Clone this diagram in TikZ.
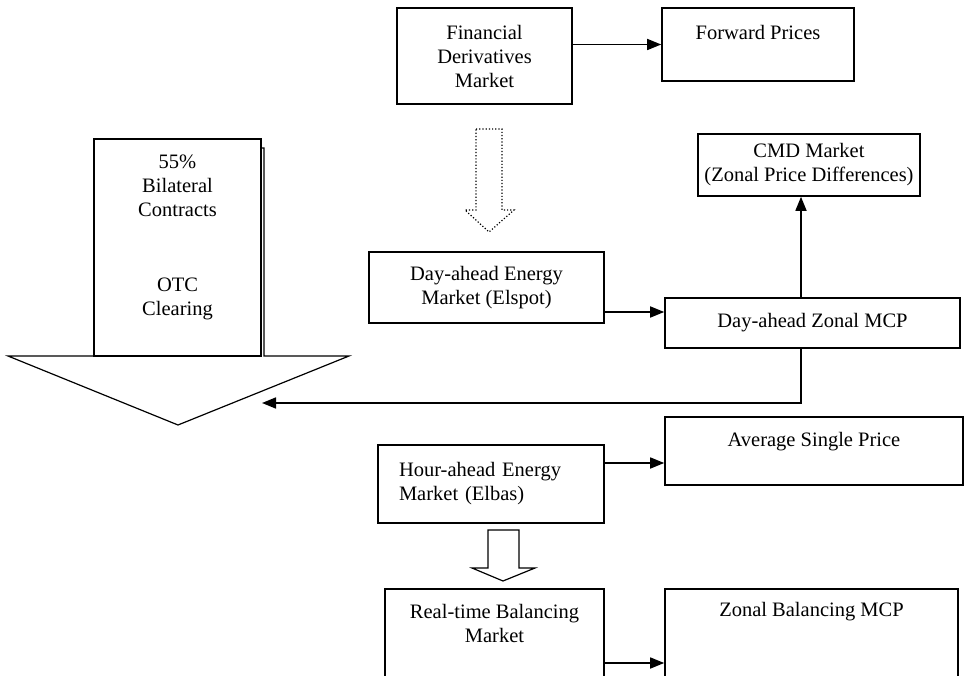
\documentclass[tikz,border=0pt]{standalone}
\usepackage{fontspec}
\setmainfont{Liberation Serif}
\usetikzlibrary{arrows.meta}

\begin{document}
\begin{tikzpicture}[
    x=1pt, y=-1pt,
    every node/.style={font=\fontsize{20.5pt}{24pt}\selectfont, inner sep=0pt, align=center},
    box/.style={draw, line width=1.6pt},
    arrow/.style={-{Triangle[length=14pt, width=11pt]}, line width=1.6pt},
    hollow/.style={line width=1.2pt, line join=miter}
]
\useasboundingbox (0,0) rectangle (964,676);
\clip (0,0) rectangle (964,676);

% Bilateral block arrow
\draw[hollow, fill=white] (94,148) -- (264,148) -- (264,356) -- (349,356) -- (178,425) -- (8,356) -- (94,356) -- cycle;
\node[box, fill=white, minimum width=167pt, minimum height=217pt,
    label={[anchor=center, yshift=-99.5pt]north:55\%\\Bilateral\\Contracts\\[51pt]OTC\\Clearing}] (otc) at (177.5,247.5) {};

% Nodes
\node[box, minimum width=175pt, minimum height=96pt] (fdm) at (484.5,56) {Financial\\Derivatives\\Market};
\node[box, minimum width=192pt, minimum height=73pt,
    label={[anchor=center, yshift=-25pt]north:Forward Prices}] (fwd) at (758,44.5) {};
\node[box, minimum width=222pt, minimum height=62pt] (cmd) at (809,165) {CMD Market\\(Zonal Price Differences)};
\node[box, minimum width=235pt, minimum height=71pt] (elspot) at (486.5,287.5) {Day-ahead Energy\\Market (Elspot)};
\node[box, minimum width=295pt, minimum height=50pt] (zmcp) at (812.5,323) {Day-ahead Zonal MCP};
\node[box, text width=184pt, inner xsep=21pt, minimum height=78pt, align=left] (elbas) at (491,484) {Hour-ahead Energy\\Market (Elbas)};
\node[box, minimum width=298pt, minimum height=68pt,
    label={[anchor=center, yshift=-25pt]north:Average Single Price}] (asp) at (814,451) {};
\node[box, minimum width=219pt, minimum height=111pt,
    label={[anchor=center, yshift=-35pt]north:Real-time Balancing\\Market}] (rtb) at (494.5,644.5) {};
\node[box, minimum width=293pt, minimum height=111pt,
    label={[anchor=center, yshift=-23pt]north:Zonal Balancing MCP}] (zbm) at (811.5,644.5) {};

% Block arrows
\draw[hollow, dotted] (476,129) -- (502,129) -- (502,210) -- (514,210) -- (489,232) -- (465,210) -- (476,210) -- cycle;
\draw[hollow] (488,530) -- (519,530) -- (519,568) -- (535,568) -- (503,581) -- (472,568) -- (488,568) -- cycle;

% Edges
\coordinate (otcin) at (262,403);
\coordinate (e1) at ([yshift=-24.5pt]elspot.east);
\draw[arrow] (fdm.east |- fwd.west) -- (fwd.west);
\draw[arrow] (e1) -- (e1 -| zmcp.west);
\draw[arrow] ([xshift=-11.5pt]zmcp.north) -- ([xshift=-11.5pt]zmcp.north |- cmd.south);
\draw[arrow] ([xshift=-11.5pt]zmcp.south) |- (otcin);
\draw[arrow] ([yshift=21pt]elbas.east) -- ([yshift=21pt]elbas.east -| asp.west);
\draw[arrow] ([yshift=-18.5pt]rtb.east) -- ([yshift=-18.5pt]rtb.east -| zbm.west);

\end{tikzpicture}
\end{document}
